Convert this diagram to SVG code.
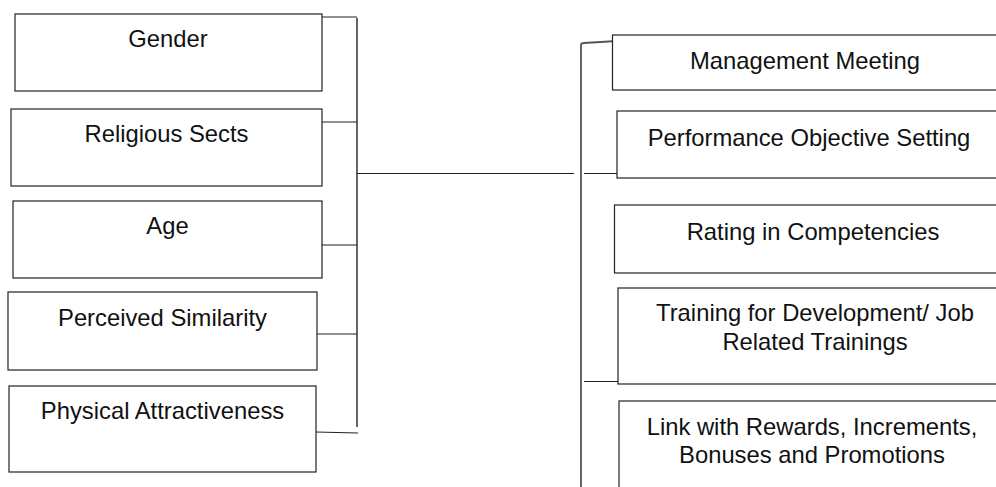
<svg xmlns="http://www.w3.org/2000/svg" width="996" height="487" viewBox="0 0 996 487">
<style>
.box{fill:#fff;stroke:#222;stroke-width:1.2}
.lbl{font-family:"Liberation Sans",Arial,sans-serif;font-size:23.8px;fill:#111;text-anchor:middle}
.ln{fill:none;stroke:#222;stroke-width:1.2}
.vl{fill:none;stroke:#555;stroke-width:1.8}
</style>
<rect width="996" height="487" fill="#fff"/>
<g id="connectors">
<line class="vl" x1="357" y1="18" x2="357" y2="427"/>
<line class="ln" x1="322" y1="17" x2="357" y2="17"/>
<line class="ln" x1="322" y1="122" x2="357" y2="122"/>
<line class="ln" x1="322" y1="245" x2="357" y2="245"/>
<line class="ln" x1="317" y1="334" x2="357" y2="334"/>
<line class="ln" x1="316" y1="432" x2="358" y2="433"/>
<line class="ln" x1="357" y1="173.5" x2="574" y2="173.5"/>
<path class="vl" d="M581,487 V45 Q581,43 584,43 L617,41"/>
<line class="ln" x1="584" y1="173.5" x2="617" y2="173.5"/>
<line class="ln" x1="584" y1="381.5" x2="618" y2="381.5"/>
</g>
<g id="gender"><rect class="box" x="15" y="14" width="307" height="77"/><text class="lbl" x="168" y="47">Gender</text></g>
<g id="religious"><rect class="box" x="11" y="109" width="311" height="77"/><text class="lbl" x="166.5" y="142">Religious Sects</text></g>
<g id="age"><rect class="box" x="13" y="201" width="309" height="77"/><text class="lbl" x="167.5" y="234">Age</text></g>
<g id="similarity"><rect class="box" x="8" y="292" width="309" height="78"/><text class="lbl" x="162.5" y="326">Perceived Similarity</text></g>
<g id="attractiveness"><rect class="box" x="9" y="386" width="307" height="86"/><text class="lbl" x="162.5" y="419">Physical Attractiveness</text></g>
<g id="meeting"><rect class="box" x="612.5" y="35" width="390" height="55"/><text class="lbl" x="805" y="69">Management Meeting</text></g>
<g id="objective"><rect class="box" x="617" y="111" width="390" height="67"/><text class="lbl" x="809" y="146">Performance Objective Setting</text></g>
<g id="rating"><rect class="box" x="614.5" y="205" width="390" height="68"/><text class="lbl" x="813" y="240">Rating in Competencies</text></g>
<g id="training"><rect class="box" x="618" y="288" width="390" height="96"/><text class="lbl" x="815" y="321">Training for Development/ Job</text><text class="lbl" x="815" y="350">Related Trainings</text></g>
<g id="rewards"><rect class="box" x="619" y="401" width="390" height="100"/><text class="lbl" x="812" y="435">Link with Rewards, Increments,</text><text class="lbl" x="812" y="463">Bonuses and Promotions</text></g>
</svg>
